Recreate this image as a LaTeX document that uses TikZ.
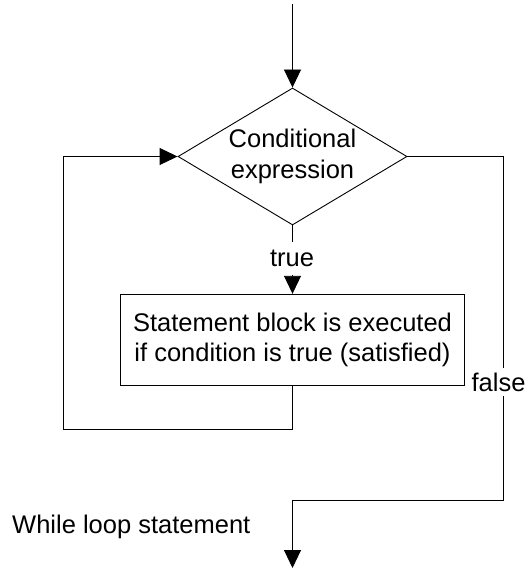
\documentclass[tikz,border=0pt]{standalone}
\usepackage{fontspec}
\setmainfont{Liberation Sans}
\usetikzlibrary{shapes.geometric,arrows.meta}
\begin{document}
\begin{tikzpicture}[x=1pt,y=-1pt,
  every node/.style={font=\fontsize{25.5}{30.5}\selectfont},
  line/.style={draw=black,line width=0.9pt},
  arr/.style={line,-{Triangle[length=18pt,width=17pt]}},
  decision/.style={shape=diamond,draw,line width=0.9pt,inner sep=0pt,minimum width=229pt,minimum height=137pt,align=center,aspect=1.67},
  block/.style={draw,line width=0.9pt,minimum width=344pt,minimum height=91.5pt,align=center,inner sep=0pt},
  lbl/.style={fill=white,inner xsep=2pt}
]
\useasboundingbox (0,0) rectangle (531,569);
\coordinate (start) at (292.5,4);
\node[decision] (cond) at (292.5,156.5) {Conditional\\expression};
\node[block] (body) at (292.5,340) {Statement block is executed\\if condition is true (satisfied)};
\coordinate (loopbl) at (63,429);
\coordinate (falsecorner) at (503,500.5);
\coordinate (end) at (292.5,568);
\draw[arr] (start) -- (cond.north);
\draw[arr] (cond.south) -- (body.north);
\node[lbl,inner ysep=8pt] (true) at (292,258.5) {true};
\draw[arr] (body.south) |- (loopbl) |- (cond.west);
\draw[arr] (cond.east) -| (falsecorner) -| (end);
\node[lbl,inner ysep=5pt] (false) at (498.5,382) {false};
\node[anchor=base west,inner sep=0pt] (title) at (12,533) {While loop statement};
\end{tikzpicture}
\end{document}
